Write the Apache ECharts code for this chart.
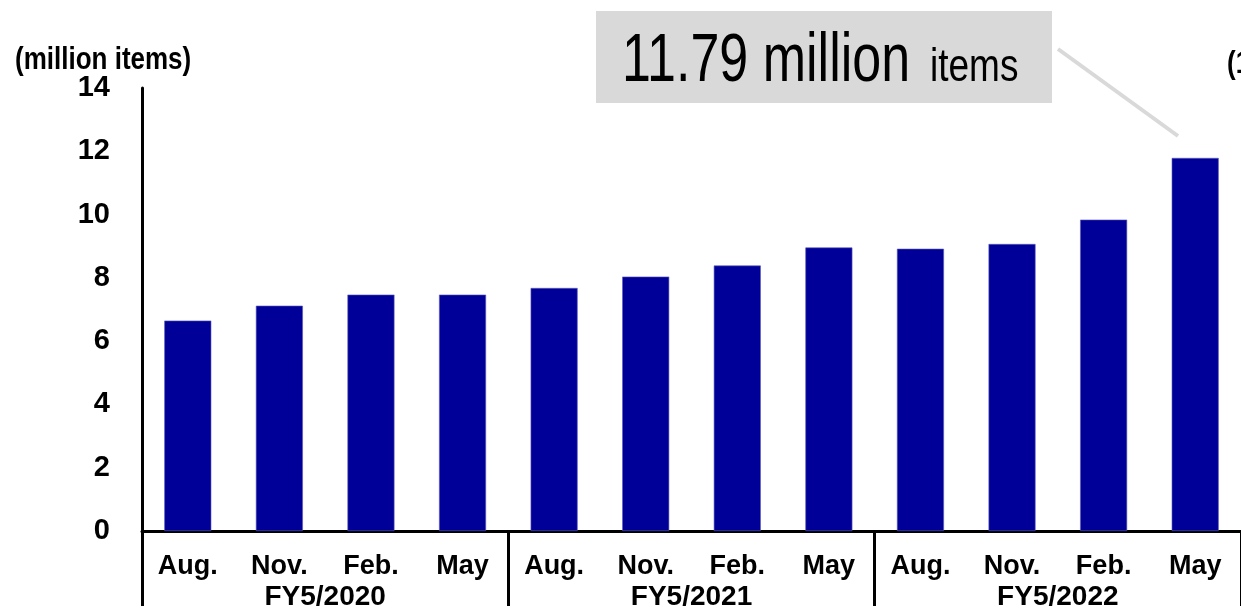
<!DOCTYPE html>
<html>
<head>
<meta charset="utf-8">
<script src="https://cdn.jsdelivr.net/npm/echarts@6/dist/echarts.min.js"></script>
<style>
  html, body { margin: 0; padding: 0; background: #fff; }
  #chart { width: 1241px; height: 613px; }
</style>
</head>
<body>
<div id="chart"></div>
<script>
// Quarter-end months, three fiscal years
const months = ['Aug.', 'Nov.', 'Feb.', 'May', 'Aug.', 'Nov.', 'Feb.', 'May', 'Aug.', 'Nov.', 'Feb.', 'May'];
const fiscalYears = ['FY5/2020', 'FY5/2021', 'FY5/2022'];
// Items, in millions
const items = [6.65, 7.12, 7.47, 7.47, 7.68, 8.04, 8.39, 8.96, 8.92, 9.07, 9.84, 11.79];
const yTicks = { min: 0, max: 14, interval: 2 };

const FONT = '"Liberation Sans", Arial, sans-serif';
const latest = items[items.length - 1];

const chart = echarts.init(document.getElementById('chart'), null, { renderer: 'canvas' });

chart.setOption({
  animation: false,
  backgroundColor: '#ffffff',
  grid: { left: 142, right: -2, top: 88, bottom: 82 },
  xAxis: [
    {
      type: 'category',
      data: months,
      position: 'bottom',
      axisLine: { show: true, lineStyle: { color: '#000', width: 3 } },
      axisTick: { show: false },
      axisLabel: {
        interval: 0, margin: 22,
        color: '#000', fontFamily: FONT, fontWeight: 'bold', fontSize: 27
      }
    },
    {
      type: 'category',
      data: fiscalYears,
      position: 'bottom',
      axisLine: { show: false },
      axisTick: { show: true, length: 75, lineStyle: { color: '#000', width: 3 } },
      axisLabel: {
        interval: 0, margin: 52,
        color: '#000', fontFamily: FONT, fontWeight: 'bold', fontSize: 28
      }
    }
  ],
  yAxis: {
    type: 'value',
    min: yTicks.min, max: yTicks.max, interval: yTicks.interval,
    axisLine: { show: true, lineStyle: { color: '#000', width: 3 } },
    axisTick: { show: false },
    splitLine: { show: false },
    axisLabel: {
      margin: 32,
      color: '#000', fontFamily: FONT, fontWeight: 'bold', fontSize: 29
    }
  },
  series: [
    {
      type: 'bar',
      xAxisIndex: 0,
      data: items,
      barWidth: 47,
      itemStyle: { color: '#000099', borderColor: '#5a5ab8', borderWidth: 0.6 }
    }
  ],
  graphic: [
    {
      type: 'text', x: 15, y: 76, originX: 0, originY: 0, scaleY: 1.2,
      style: { text: '(million items)', font: 'bold 26px ' + FONT, fill: '#000',
               textAlign: 'left', textVerticalAlign: 'bottom' }
    },
    {
      type: 'text', x: 1227, y: 80, originX: 0, originY: 0, scaleY: 1.2,
      style: { text: '(1', font: 'bold 26px ' + FONT, fill: '#000',
               textAlign: 'left', textVerticalAlign: 'bottom' }
    },
    // callout for the latest quarter
    {
      type: 'rect',
      shape: { x: 596, y: 11, width: 456, height: 92 },
      style: { fill: '#d9d9d9' }
    },
    {
      type: 'text', x: 622, y: 96, originX: 0, originY: 0, scaleY: 1.31,
      style: { text: latest.toFixed(2) + ' million', font: '52px ' + FONT, fill: '#000',
               textAlign: 'left', textVerticalAlign: 'bottom' }
    },
    {
      type: 'text', x: 930, y: 91, originX: 0, originY: 0, scaleY: 1.26,
      style: { text: 'items', font: '37px ' + FONT, fill: '#000',
               textAlign: 'left', textVerticalAlign: 'bottom' }
    },
    {
      type: 'line',
      shape: { x1: 1058, y1: 49, x2: 1178, y2: 136 },
      style: { stroke: '#d9d9d9', lineWidth: 4 }
    }
  ]
});
</script>
</body>
</html>
